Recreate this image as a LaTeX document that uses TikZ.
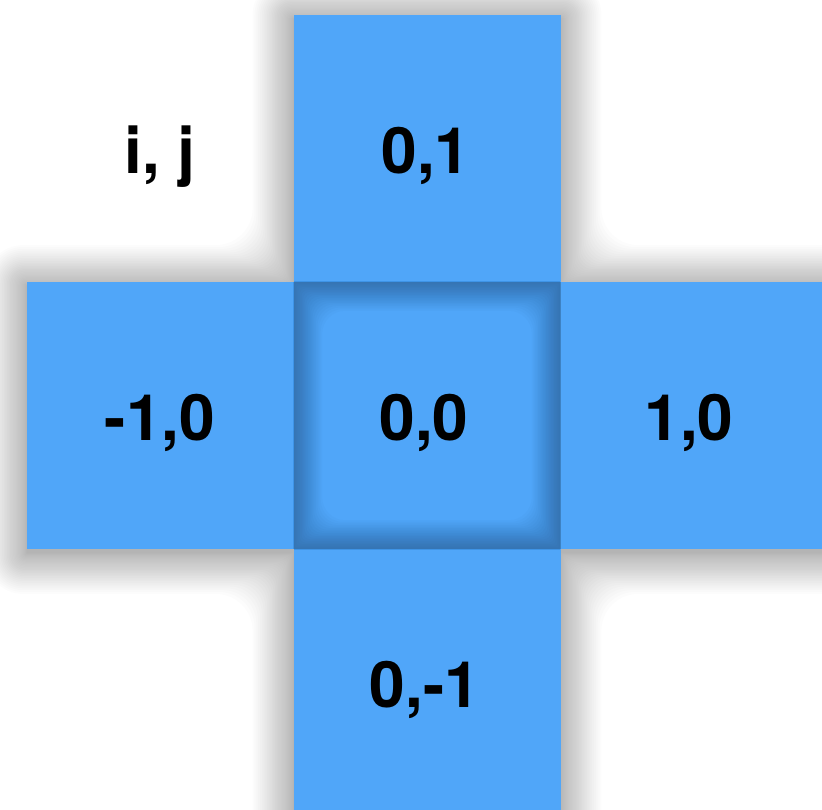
\documentclass[tikz,border=0pt]{standalone}
\usepackage{fontspec}
\setmainfont{TeX Gyre Heros}
\definecolor{cellblue}{RGB}{80,166,249}
\begin{document}
\begin{tikzpicture}[x=1pt,y=-1pt,
  cell/.style={fill=cellblue,minimum width=267pt,minimum height=267pt,inner sep=0pt,outer sep=0pt},
  lbl/.style={font=\fontsize{64}{70}\selectfont\bfseries,inner sep=0pt},
  softshadow/.style={fill=black,opacity=0.0115},
  innershade/.style={fill=black,opacity=0.015,even odd rule}]
\useasboundingbox (0,0) rectangle (822,810);
\clip (0,0) rectangle (822,810);
% soft outer shadow of the whole cross
\foreach \k in {1,...,30}{
  \pgfmathsetmacro\d{0.35*(\k^1.4)}
  \fill[softshadow,rounded corners=0.9*\d]
    (293.5-\d,15-\d+4) -- (560.5+\d,15-\d+4) -- (560.5+\d,282-\d+4) -- (828+\d,282-\d+4)
    -- (828+\d,549+\d+4) -- (560.5+\d,549+\d+4) -- (560.5+\d,816+\d+4) -- (293.5-\d,816+\d+4)
    -- (293.5-\d,549+\d+4) -- (27-\d,549+\d+4) -- (27-\d,282-\d+4) -- (293.5-\d,282-\d+4) -- cycle;
}
% cells
\node[cell] (top) at (427,148.5) {};
\node[cell] (left) at (160.5,415.5) {};
\node[cell] (center) at (427,415.5) {};
\node[cell] (right) at (694,415.5) {};
\node[cell] (bottom) at (427,682.5) {};
% inner shadow of the centre cell
\foreach \k in {1,...,18}{
  \pgfmathsetmacro\e{\k*1.6}
  \fill[innershade]
    (center.north west) rectangle (center.south east)
    [rounded corners=0.8*\e]
    ([shift={(\e,\e)}]center.north west) rectangle ([shift={(-\e,-\e)}]center.south east);
}
% labels
\node[lbl,anchor=base] (t1) at (426,174) {0,1};
\node[lbl,anchor=base] (t2) at (160,440) {-1,0};
\node[lbl,anchor=base] (t3) at (424,440) {0,0};
\node[lbl,anchor=base] (t4) at (689,440) {1,0};
\node[lbl,anchor=base] (t5) at (425,707) {0,-1};
\node[lbl,anchor=base] (t6) at (160,174) {i, j};
\end{tikzpicture}
\end{document}
